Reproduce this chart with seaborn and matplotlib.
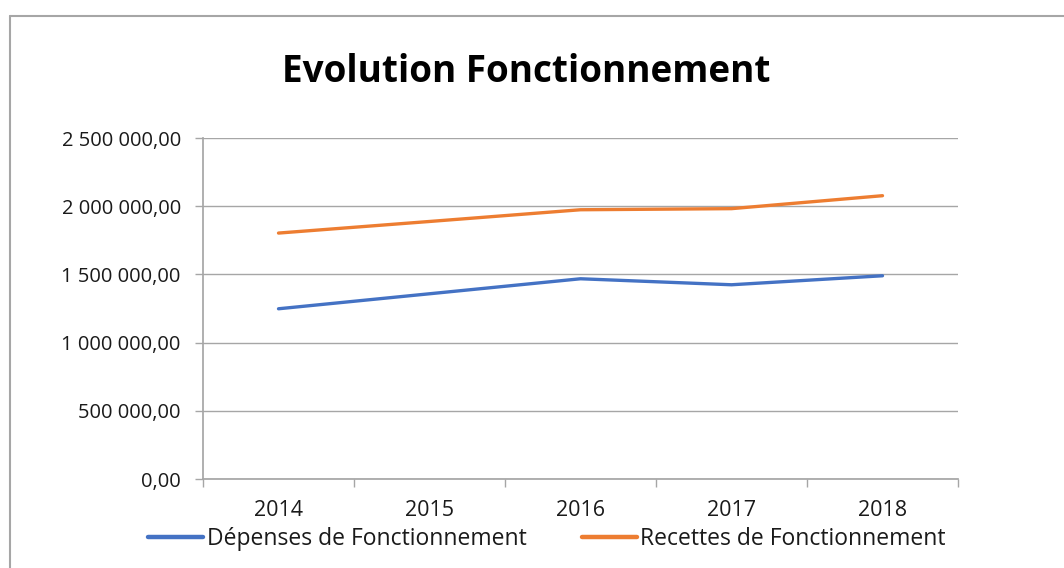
import matplotlib
matplotlib.use("Agg")
import matplotlib.pyplot as plt
from matplotlib.lines import Line2D
from matplotlib.ticker import FixedLocator, FuncFormatter
import seaborn as sns
import pandas as pd

# Data
years = ["2014", "2015", "2016", "2017", "2018"]
depenses = [1248000, 1358000, 1468000, 1424000, 1490000]
recettes = [1803000, 1888000, 1974000, 1982000, 2077000]
series_names = ["Dépenses de Fonctionnement", "Recettes de Fonctionnement"]
colors = ["#4472C4", "#ED7D31"]
y_ticks = [0, 500000, 1000000, 1500000, 2000000, 2500000]

df = pd.DataFrame({
    "pos": list(range(len(years))) * 2,
    "value": depenses + recettes,
    "serie": [series_names[0]] * len(years) + [series_names[1]] * len(years),
})

sns.set_theme(style="white")
plt.rcParams["font.family"] = ["Open Sans", "DejaVu Sans"]

fig = plt.figure(figsize=(10.64, 5.68), dpi=100)
ax = fig.add_axes([203 / 1064, 1 - 479 / 568, (958 - 203) / 1064, (479 - 138) / 568])

sns.lineplot(data=df, x="pos", y="value", hue="serie", palette=colors,
             linewidth=2.4, ax=ax, legend=False, sort=False)

ax.set_xlim(-0.5, len(years) - 0.5)
ax.set_ylim(0, 2500000)


def fr_fmt(v, _):
    # french style: space for thousands, comma for decimals
    return f"{v:,.2f}".replace(",", " ").replace(".", ",")


ax.yaxis.set_major_locator(FixedLocator(y_ticks))
ax.yaxis.set_major_formatter(FuncFormatter(fr_fmt))
ax.grid(axis="y", color="#a6a6a6", linewidth=1.0)
ax.set_axisbelow(True)

# category boundaries as major ticks, labels on minor ticks
ax.xaxis.set_major_locator(FixedLocator([i - 0.5 for i in range(len(years) + 1)]))
ax.xaxis.set_major_formatter(FuncFormatter(lambda v, _: ""))
ax.xaxis.set_minor_locator(FixedLocator(list(range(len(years)))))
ax.set_xticklabels(years, minor=True)
ax.tick_params(axis="x", which="major", direction="out", length=6, width=1,
               color="#a6a6a6", bottom=True)
ax.tick_params(axis="x", which="minor", length=0, pad=15, labelsize=15.5,
               labelcolor="#1a1a1a")
ax.tick_params(axis="y", direction="out", length=6, width=1, color="#a6a6a6",
               left=True, pad=10, labelsize=14.5, labelcolor="#1a1a1a")

ax.set_xlabel("")
ax.set_ylabel("")
for side in ["top", "right"]:
    ax.spines[side].set_visible(False)
ax.spines["left"].set_color("#a6a6a6")
ax.spines["bottom"].set_color("#a6a6a6")

fig.text(526 / 1064, 1 - 82 / 568, "Evolution Fonctionnement", ha="center", va="baseline",
         fontsize=26.6, fontweight="bold", color="black")

handles = [Line2D([0], [0], color=c, linewidth=3.2) for c in colors]
fig.legend(handles, series_names, loc="center", bbox_to_anchor=(547 / 1064, 1 - 539 / 568),
           ncol=2, frameon=False, fontsize=16.5, handlelength=2.4, handletextpad=0.15,
           columnspacing=2.4, labelcolor="#1a1a1a", borderpad=0, borderaxespad=0)

# chart border (top and left visible)
fig.add_artist(Line2D([10 / 1064, 10 / 1064], [0, 1 - 16 / 568], transform=fig.transFigure,
                      color="#a6a6a6", linewidth=1.5))
fig.add_artist(Line2D([10 / 1064, 1], [1 - 16 / 568, 1 - 16 / 568], transform=fig.transFigure,
                      color="#a6a6a6", linewidth=1.5))

fig.savefig("out.png", dpi=100)
